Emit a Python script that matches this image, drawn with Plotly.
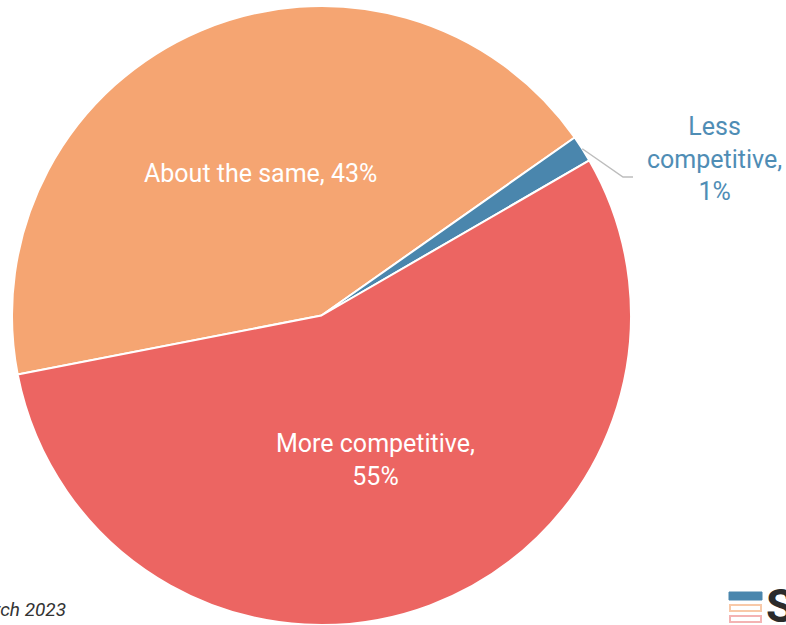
import math
import plotly.graph_objects as go

labels = ["About the same", "Less competitive", "More competitive"]
values = [43.3, 1.4, 55.3]
label_text = ["About the same, 43%", "Less<br>competitive,<br>1%", "More competitive,<br>55%"]
colors = ["#F5A572", "#4A86AD", "#EC6562"]

W, H = 786, 625
L, T, SIZE = 12, 6, 619
CX, CY, R = L + SIZE / 2, T + SIZE / 2, SIZE / 2
ROT = -101  # clockwise from 12 o'clock

def px(x):
    return (x - L) / SIZE

def py(y):
    return (T + SIZE - y) / SIZE

fig = go.Figure(go.Pie(
    labels=labels, values=values, sort=False, direction="clockwise",
    rotation=ROT, marker=dict(colors=colors, line=dict(color="white", width=2)),
    textinfo="none", hoverinfo="label+percent", showlegend=False,
))

total = sum(values)
ann = []
start = ROT
mids = []
for v in values:
    span = v / total * 360
    mids.append(start + span / 2)
    start += span

for i, (t, m) in enumerate(zip(label_text, mids)):
    a = math.radians(m)
    if i == 1:
        ex, ey = CX + R * math.sin(a), CY - R * math.cos(a)
        fig.add_shape(type="path", xref="paper", yref="paper",
                      path=f"M {px(ex)} {py(ey)} L {px(623)} {py(177)} L {px(633)} {py(177)}",
                      line=dict(color="#BDBDBD", width=1.5))
        ann.append(dict(x=px(714), y=py(159), text=t, showarrow=False,
                        font=dict(family="Roboto", size=25, color="#4F8DB5"),
                        xanchor="center", yanchor="middle"))
    else:
        x, y = CX + 0.5 * R * math.sin(a), CY - 0.5 * R * math.cos(a)
        ann.append(dict(x=px(x), y=py(y), text=t, showarrow=False,
                        font=dict(family="Roboto", size=25, color="white"),
                        xanchor="center", yanchor="middle"))

ann.append(dict(x=px(68), y=py(609), text="<i>March 2023</i>", showarrow=False,
                xanchor="right", yanchor="middle",
                font=dict(family="Roboto", size=19, color="#333333")))
ann.append(dict(x=px(764), y=py(606), text="<b>S</b>", showarrow=False,
                xanchor="left", yanchor="middle",
                font=dict(family="Roboto", size=46, color="#2B2B2B")))

# logo stripes
fig.add_shape(type="rect", xref="paper", yref="paper", x0=px(729), x1=px(762), y0=py(600), y1=py(592),
              fillcolor="#4A86AD", line=dict(color="#4A86AD", width=1))
fig.add_shape(type="rect", xref="paper", yref="paper", x0=px(730), x1=px(761), y0=py(611), y1=py(605),
              fillcolor="white", line=dict(color="#F8C9A8", width=2))
fig.add_shape(type="rect", xref="paper", yref="paper", x0=px(730), x1=px(761), y0=py(622), y1=py(616),
              fillcolor="white", line=dict(color="#F4B3B3", width=2))

fig.update_layout(
    width=W, height=H, margin=dict(l=L, r=W - L - SIZE, t=T, b=H - T - SIZE),
    paper_bgcolor="white", plot_bgcolor="white", annotations=ann,
    font=dict(family="Roboto"),
)
fig.write_html("out.html")
